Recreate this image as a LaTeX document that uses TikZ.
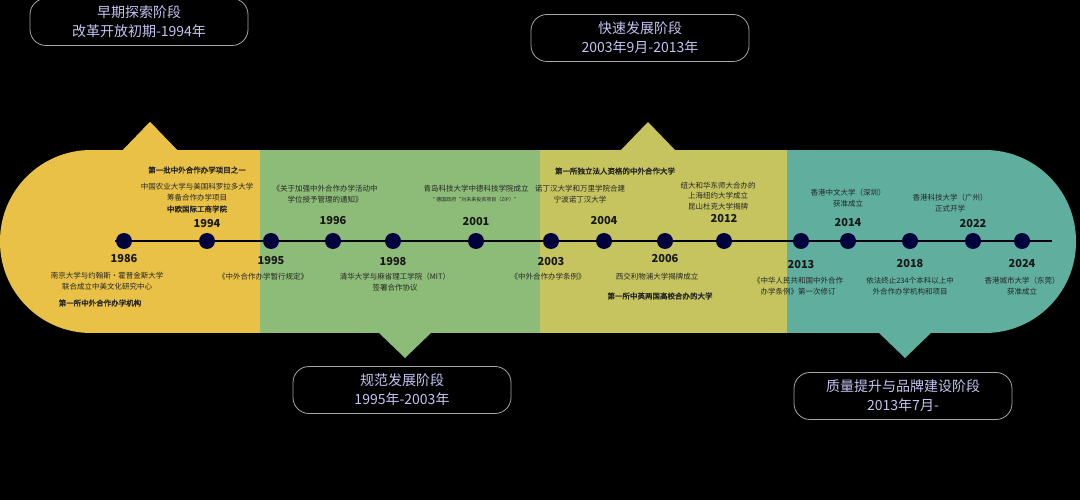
\documentclass[tikz,border=0pt]{standalone}
\usepackage{fontspec}
\setmainfont{Noto Sans CJK SC}
\newfontfamily\cjkb{Noto Sans CJK SC}[FakeBold=2]
\begin{document}
\begin{tikzpicture}[x=1pt,y=-1pt,
 stage/.style={draw=gray!70,line width=0.8pt,fill=black,rounded corners=16pt,minimum width=218pt,minimum height=47pt,align=center,text=white!80!blue!90!gray,font=\fontsize{14}{19}\selectfont},
 evt/.style={align=center,font=\fontsize{7.5}{10.5}\selectfont,text=black!85,inner sep=0pt},
 evb/.style={evt,font=\cjkb\fontsize{7.5}{10.5}\selectfont},
 yr/.style={font=\bfseries\fontsize{11}{12}\selectfont,text=black!90,inner sep=0pt},
 dot/.style={circle,fill=black!40!blue!40!black,minimum size=16pt,inner sep=0pt}]
\fill[black] (0,0) rectangle (1080,500);
\useasboundingbox (0,0) rectangle (1080,500);
% triangles
\fill[yellow!60!orange!90!white,fill=yellow!70!orange] (122,151) -- (150,122) -- (178,151) -- cycle;
\fill[fill={rgb,255:red,197;green,196;blue,94}] (620,151) -- (648,122) -- (676,151) -- cycle;
\fill[fill={rgb,255:red,141;green,187;blue,120}] (378,332) -- (405,358) -- (432,332) -- cycle;
\fill[fill={rgb,255:red,95;green,174;blue,158}] (878,332) -- (905,358) -- (932,332) -- cycle;
\fill[fill={rgb,255:red,233;green,193;blue,70}] (122,151) -- (150,122) -- (178,151) -- cycle;
\begin{scope}
\clip[rounded corners=91pt] (0,150) rectangle (1076,333);
\fill[fill={rgb,255:red,233;green,193;blue,70}] (0,150) rectangle (260,333);
\fill[fill={rgb,255:red,141;green,187;blue,120}] (260,150) rectangle (540,333);
\fill[fill={rgb,255:red,197;green,196;blue,94}] (540,150) rectangle (787,333);
\fill[fill={rgb,255:red,95;green,174;blue,158}] (787,150) rectangle (1076,333);
\end{scope}
% stage boxes
\node[stage] (s1) at (139,22) {早期探索阶段\\改革开放初期-1994年};
\node[stage] (s2) at (640,38) {快速发展阶段\\2003年9月-2013年};
\node[stage] (s3) at (402,390) {规范发展阶段\\1995年-2003年};
\node[stage] (s4) at (903,396) {质量提升与品牌建设阶段\\2013年7月-};
% timeline
\coordinate (ls) at (115,241); \coordinate (le) at (1052,241);
\draw[line width=2pt,black!75!blue!30!black] (ls) -- (le);
\foreach \n/\x in {a/124,b/207,c/271,d/333,e/393,f/476,g/551,h/604,i/665,j/724,k/801,l/848,m/910,n/973,o/1022}
 \node[dot] (\n) at (\x,241) {};
% years above
\node[yr] at (207,224) {1994};
\node[yr] at (333,221) {1996};
\node[yr] at (476,222) {2001};
\node[yr] at (604,221) {2004};
\node[yr] at (724,219) {2012};
\node[yr] at (848,223) {2014};
\node[yr] at (973,224) {2022};
% years below
\node[yr] at (124,259) {1986};
\node[yr] at (271,261) {1995};
\node[yr] at (393,262) {1998};
\node[yr] at (551,262) {2003};
\node[yr] at (665,259) {2006};
\node[yr] at (801,265) {2013};
\node[yr] at (910,264) {2018};
\node[yr] at (1022,264) {2024};
% events above
\node[evb] at (197,170) {第一批中外合作办学项目之一};
\node[evt] at (197,192) {中国农业大学与美国科罗拉多大学\\筹备合作办学项目};
\node[evb] at (197,209) {中欧国际工商学院};
\node[evt] at (325,194) {《关于加强中外合作办学活动中\\学位授予管理的通知》};
\node[evt] at (476,189) {青岛科技大学中德科技学院成立};
\node[evt,font=\itshape\fontsize{5}{6}\selectfont] at (476,200) {* 德国政府“对未来投资项目（ZIP）”};
\node[evb] at (615,171) {第一所独立法人资格的中外合作大学};
\node[evt] at (580,194) {诺丁汉大学和万里学院合建\\宁波诺丁汉大学};
\node[evt] at (718,196) {纽大和华东师大合办的\\上海纽约大学成立\\昆山杜克大学揭牌};
\node[evt] at (848,198) {香港中文大学（深圳）\\获准成立};
\node[evt] at (950,203) {香港科技大学（广州）\\正式开学};
% events below
\node[evt] at (107,281) {南京大学与约翰斯·霍普金斯大学\\联合成立中美文化研究中心};
\node[evb] at (100,303) {第一所中外合作办学机构};
\node[evt] at (263,277) {《中外合作办学暂行规定》};
\node[evt] at (395,282) {清华大学与麻省理工学院（MIT）\\签署合作协议};
\node[evt] at (548,277) {《中外合作办学条例》};
\node[evt] at (657,277) {西交利物浦大学揭牌成立};
\node[evb] at (660,296) {第一所中英两国高校合办的大学};
\node[evt] at (798,286) {《中华人民共和国中外合作\\办学条例》第一次修订};
\node[evt] at (910,286) {依法终止234个本科以上中\\外合作办学机构和项目};
\node[evt] at (1022,286) {香港城市大学（东莞）\\获准成立};
\end{tikzpicture}
\end{document}
